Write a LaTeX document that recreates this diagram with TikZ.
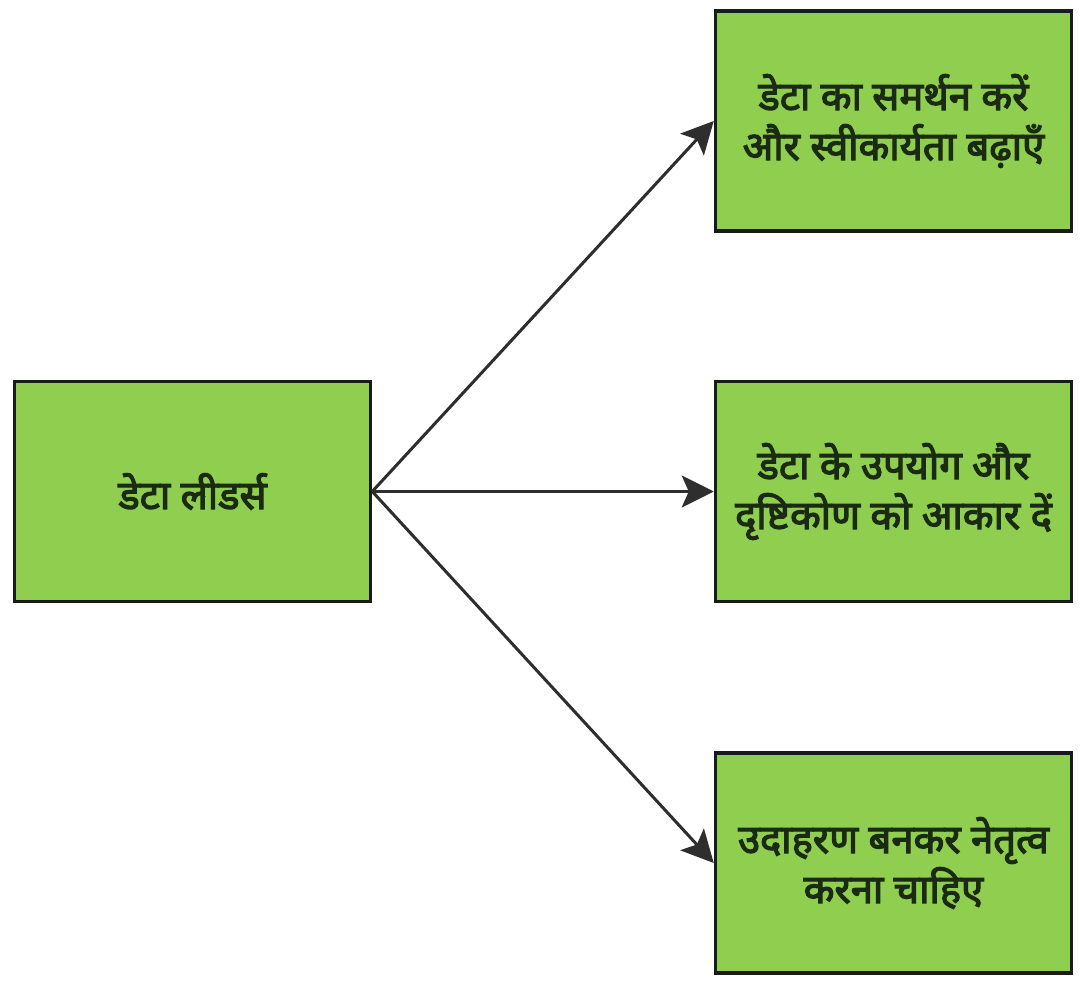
\documentclass[tikz,border=0pt]{standalone}
\usepackage{fontspec}
\newfontfamily\deva[Script=Devanagari,FakeBold=3]{Noto Sans}
\usetikzlibrary{arrows.meta}
\definecolor{boxgreen}{HTML}{8FCE4E}
\definecolor{boxline}{HTML}{1A1A1A}
\definecolor{txt}{HTML}{1B2A12}
\definecolor{arr}{HTML}{2E2E2E}
\tikzset{
  box/.style={draw=boxline, line width=3.5pt, fill=boxgreen, minimum width=356pt, minimum height=220pt,
    align=center, text=txt, font=\deva\fontsize{40}{50}\selectfont, inner sep=0pt},
  conn/.style={draw=arr, line width=3pt, -{Stealth[length=32pt,width=32pt,inset=7pt]}}
}
\begin{document}
\begin{tikzpicture}[x=1pt,y=-1pt]
\useasboundingbox[fill=white] (0,0) rectangle (1087,992);
\node[box] (lead) at (192.5,491.5) {डेटा लीडर्स};
\node[box] (t1) at (893.5,121) {डेटा का समर्थन करें\\और स्वीकार्यता बढ़ाएँ};
\node[box] (t2) at (893.5,491.5) {डेटा के उपयोग और\\दृष्टिकोण को आकार दें};
\node[box] (t3) at (893.5,863) {उदाहरण बनकर नेतृत्व\\करना चाहिए};
\draw[conn] (lead.east) -- (t1.west);
\draw[conn] (lead.east) -- (t2.west);
\draw[conn] (lead.east) -- (t3.west);
\end{tikzpicture}
\end{document}
